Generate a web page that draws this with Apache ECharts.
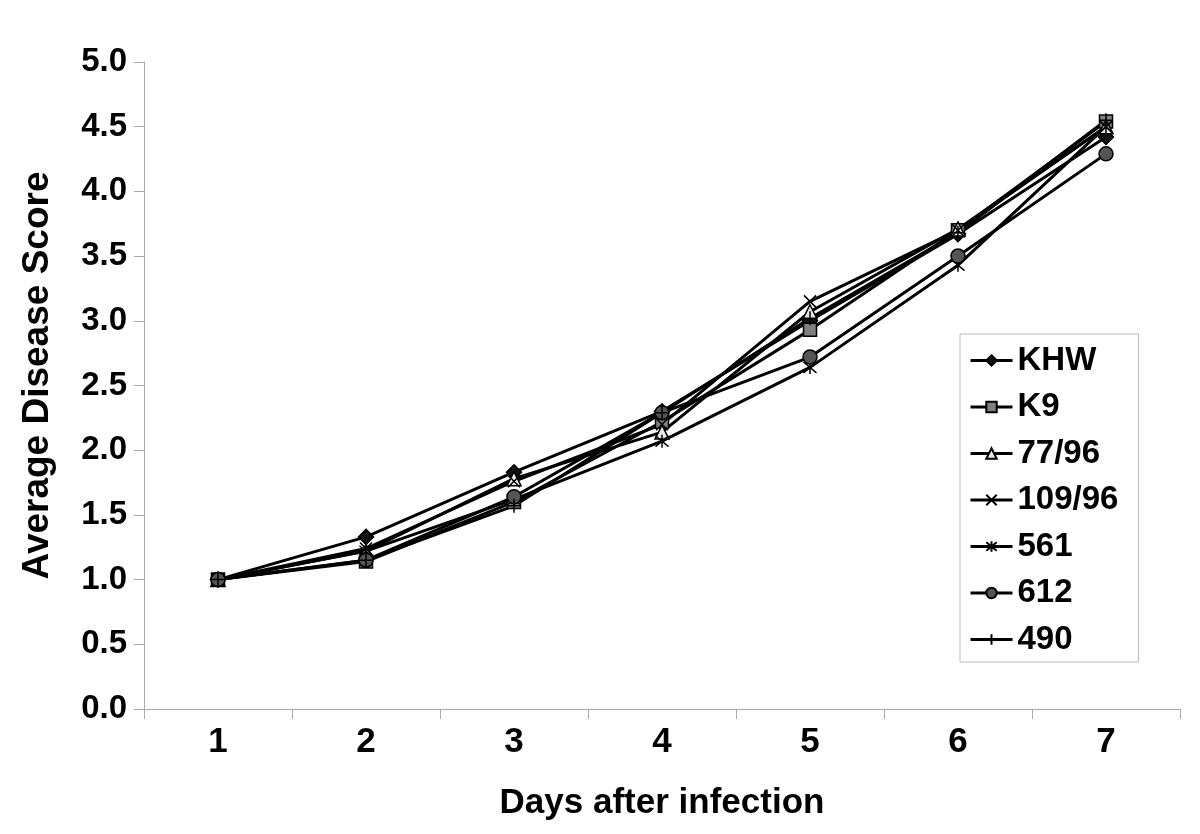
<!DOCTYPE html>
<html>
<head>
<meta charset="utf-8">
<script src="https://cdn.jsdelivr.net/npm/echarts@6/dist/echarts.min.js"></script>
<style>
  html, body { margin: 0; padding: 0; background: #fff; }
  #chart { width: 1200px; height: 834px; }
</style>
</head>
<body>
<div id="chart"></div>
<script>
// x轴和各组数据
var days = ['1', '2', '3', '4', '5', '6', '7'];
var khw = [1.00, 1.33, 1.83, 2.30, 3.00, 3.67, 4.42];
var k9 = [1.00, 1.14, 1.60, 2.22, 2.93, 3.70, 4.54];
var s7796 = [1.00, 1.22, 1.78, 2.14, 3.07, 3.71, 4.50];
var s10996 = [1.00, 1.24, 1.76, 2.20, 3.15, 3.70, 4.50];
var s561 = [1.00, 1.22, 1.62, 2.07, 2.64, 3.43, 4.50];
var s612 = [1.00, 1.15, 1.64, 2.29, 2.72, 3.50, 4.29];
var s490 = [1.00, 1.15, 1.57, 2.29, 3.02, 3.68, 4.55];

var font = 'Liberation Sans, Arial, sans-serif';

// 自定义符号
var xPath = 'path://M0,0L10,10M10,0L0,10';
var starPath = 'path://M0,0L10,10M10,0L0,10M5,-1L5,11';
var plusPath = 'path://M5,0L5,10M0,5L10,5';

function makeSeries(name, data, symbol, size, fill) {
    return {
        name: name,
        type: 'line',
        data: data,
        symbol: symbol,
        symbolSize: size,
        showSymbol: true,
        showAllSymbol: true,
        lineStyle: {
            color: '#000',
            width: 3
        },
        itemStyle: {
            color: fill,
            borderColor: '#000',
            borderWidth: 1.5
        },
        emphasis: { disabled: true }
    };
}

var myChart = echarts.init(document.getElementById('chart'), null, { renderer: 'canvas' });

var option = {
    backgroundColor: '#fff',
    animation: false,
    grid: {
        left: 144,
        right: 20,
        top: 62,
        bottom: 125
    },
    legend: {
        orient: 'vertical',
        left: 960,
        top: 334,
        padding: [10, 20, 6, 9],
        itemWidth: 42,
        itemHeight: 13,
        itemGap: 13.5,
        borderColor: '#bbb',
        borderWidth: 1,
        lineStyle: { color: '#000', width: 3 },
        textStyle: {
            fontFamily: font,
            fontWeight: 'bold',
            fontSize: 33,
            color: '#000'
        },
        data: ['KHW', 'K9', '77/96', '109/96', '561', '612', '490']
    },
    xAxis: {
        type: 'category',
        boundaryGap: true,
        data: days,
        name: 'Days after infection',
        nameLocation: 'middle',
        nameGap: 77,
        nameTextStyle: {
            fontFamily: font,
            fontWeight: 'bold',
            fontSize: 35,
            color: '#000'
        },
        axisLine: { lineStyle: { color: '#aaa', width: 1 } },
        axisTick: { show: true, length: 10, interval: 0, lineStyle: { color: '#aaa' } },
        axisLabel: {
            margin: 16,
            fontFamily: font,
            fontWeight: 'bold',
            fontSize: 35,
            color: '#000'
        },
        splitLine: { show: false }
    },
    yAxis: {
        type: 'value',
        min: 0,
        max: 5,
        interval: 0.5,
        name: 'Average Disease Score',
        nameLocation: 'middle',
        nameGap: 88,
        nameRotate: 90,
        nameTextStyle: {
            fontFamily: font,
            fontWeight: 'bold',
            fontSize: 37,
            color: '#000',
            padding: [0, 0, 0, 20]
        },
        axisLine: { show: true, lineStyle: { color: '#aaa', width: 1 } },
        axisTick: { show: true, length: 10, lineStyle: { color: '#aaa' } },
        axisLabel: {
            margin: 17,
            fontFamily: font,
            fontWeight: 'bold',
            fontSize: 33,
            color: '#000',
            formatter: function (v) { return v.toFixed(1); }
        },
        splitLine: { show: false }
    },
    series: [
        makeSeries('KHW', khw, 'diamond', 15, '#111'),
        makeSeries('K9', k9, 'rect', 13, '#808080'),
        makeSeries('77/96', s7796, 'triangle', 14, '#e6e6e6'),
        makeSeries('109/96', s10996, xPath, 12, 'none'),
        makeSeries('561', s561, starPath, 13, 'none'),
        makeSeries('612', s612, 'circle', 14, '#555'),
        makeSeries('490', s490, plusPath, 14, 'none')
    ]
};

myChart.setOption(option);
</script>
</body>
</html>
